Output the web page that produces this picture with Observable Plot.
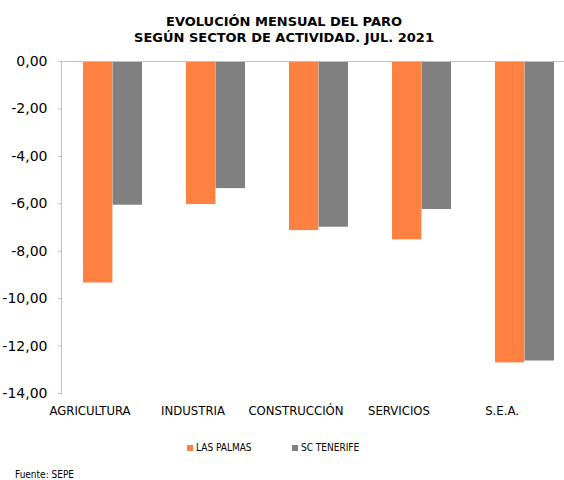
<!DOCTYPE html>
<html>
<head>
<meta charset="utf-8">
<script src="https://cdn.jsdelivr.net/npm/d3@7"></script>
<script src="https://cdn.jsdelivr.net/npm/@observablehq/plot@0.6"></script>
<style>
  html, body { margin: 0; padding: 0; background: #fff; overflow: hidden; }
  #wrap { position: relative; width: 564px; height: 480px; overflow: hidden; }
  #title { position: absolute; left: 0; top: 14px; width: 568px; text-align: center;
    font: bold 13px "DejaVu Sans", sans-serif; line-height: 16px; color: #000; }
  #chart { position: absolute; left: 0; top: 50px; }
  #chart svg { max-width: none !important; }
  #legend { position: absolute; top: 442px; left: 0; width: 564px; height: 12px;
    font: 10px "DejaVu Sans Condensed", "DejaVu Sans", sans-serif; color: #000; }
  .item { position: absolute; display: flex; align-items: center; gap: 3px; white-space: nowrap; }
  .sw { width: 6px; height: 6px; display: inline-block; }
  #source { position: absolute; left: 15px; top: 469px;
    font: 10px "DejaVu Sans Condensed", "DejaVu Sans", sans-serif; color: #000; }
</style>
</head>
<body>
<div id="wrap">
  <div id="title">EVOLUCIÓN MENSUAL DEL PARO<br>SEGÚN SECTOR DE ACTIVIDAD. JUL. 2021</div>
  <div id="chart"></div>
  <div id="legend"></div>
  <div id="source">Fuente: SEPE</div>
</div>
<script>
const categories = ["AGRICULTURA", "INDUSTRIA", "CONSTRUCCIÓN", "SERVICIOS", "S.E.A."];
const seriesNames = ["LAS PALMAS", "SC TENERIFE"];
const lasPalmas = [-9.34, -6.03, -7.13, -7.52, -12.71];
const scTenerife = [-6.06, -5.36, -6.99, -6.24, -12.63];
const yTicks = [0, -2, -4, -6, -8, -10, -12, -14];
const colors = ["#FF8141", "#808080"];

const lpData = categories.map((c, i) => ({category: c, value: lasPalmas[i]}));
const scData = categories.map((c, i) => ({category: c, value: scTenerife[i]}));

const fmt = d => d.toFixed(2).replace(".", ",");

const chart = Plot.plot({
  width: 577,
  height: 375,
  marginTop: 11,
  marginBottom: 32,
  marginLeft: 61,
  marginRight: 0,
  style: {fontFamily: "DejaVu Sans, sans-serif", background: "transparent", maxWidth: "none"},
  x: {domain: categories, paddingInner: 0.4266, paddingOuter: 0.2133, axis: null},
  y: {domain: [-14, 0], axis: null},
  marks: [
    Plot.barY(lpData, {x: "category", y: "value", fill: colors[0], insetRight: 29.6}),
    Plot.barY(scData, {x: "category", y: "value", fill: colors[1], insetLeft: 29.6}),
    Plot.ruleY([0], {stroke: "#bfbfbf", strokeWidth: 1}),
    Plot.frame({anchor: "left", stroke: "#bfbfbf"}),
    Plot.axisY({ticks: yTicks, tickFormat: fmt, tickSize: 3, tickPadding: 11, stroke: "#bfbfbf",
      fontSize: 14, fill: "#000", label: null}),
    Plot.axisX({anchor: "bottom", tickSize: 0, tickPadding: 12, dx: -23, label: null,
      fontSize: 13, fontFamily: "DejaVu Sans Condensed, DejaVu Sans, sans-serif", fill: "#000"})
  ]
});
document.getElementById("chart").appendChild(chart);

const legend = document.getElementById("legend");
const legendX = [187, 292];
seriesNames.forEach((name, i) => {
  const it = document.createElement("div");
  it.className = "item";
  it.style.left = legendX[i] + "px";
  it.innerHTML = `<span class="sw" style="background:${colors[i]}"></span><span>${name}</span>`;
  legend.appendChild(it);
});
</script>
</body>
</html>
